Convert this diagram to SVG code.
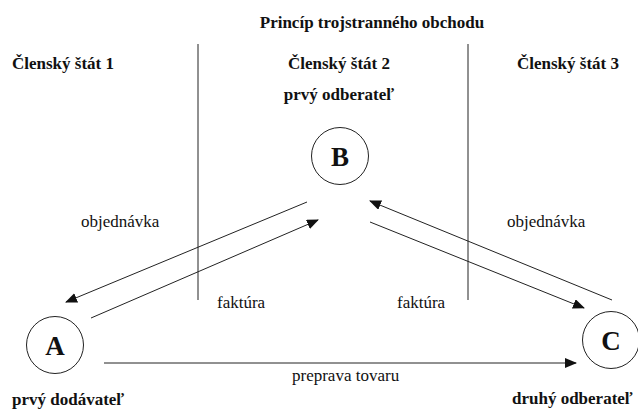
<svg xmlns="http://www.w3.org/2000/svg" width="638" height="410" viewBox="0 0 638 410">
<style>
.t{font-family:'Liberation Serif','Times New Roman',Tinos,'DejaVu Serif',serif;fill:#111;}
.b{font-weight:bold;font-size:17px;}
.r{font-size:17px;}
.big{font-weight:bold;font-size:27px;}
.ln{stroke:#222;stroke-width:1;fill:none;}
.nd{fill:#fff;stroke:#222;stroke-width:1;}
</style>
<defs>
<marker id="ah" markerWidth="12" markerHeight="10" refX="11" refY="5" orient="auto" markerUnits="userSpaceOnUse">
<path d="M0,0 L12,5 L0,10 Z" fill="#111"/>
</marker>
</defs>
<g id="labels">
<text class="t b" x="372" y="28" text-anchor="middle" font-size="17.4">Princíp trojstranného obchodu</text>
<text class="t b" x="12" y="69">Členský štát 1</text>
<text class="t b" x="339" y="69" text-anchor="middle">Členský štát 2</text>
<text class="t b" x="517" y="69">Členský štát 3</text>
<text class="t r" x="81" y="227">objednávka</text>
<text class="t r" x="507" y="227">objednávka</text>
<text class="t r" x="217" y="308">faktúra</text>
<text class="t r" x="397" y="308">faktúra</text>
<text class="t r" x="292" y="381">preprava tovaru</text>
</g>
<g id="dividers">
<line class="ln" x1="198" y1="44" x2="198" y2="300"/>
<line class="ln" x1="468" y1="44" x2="468" y2="300"/>
</g>
<g id="connectors">
<line class="ln" x1="307" y1="202" x2="66" y2="302" marker-end="url(#ah)"/>
<line class="ln" x1="91" y1="318" x2="318" y2="220" marker-end="url(#ah)"/>
<line class="ln" x1="612" y1="300" x2="370" y2="201" marker-end="url(#ah)"/>
<line class="ln" x1="370" y1="222" x2="584" y2="308" marker-end="url(#ah)"/>
<line class="ln" x1="104" y1="363" x2="576" y2="363" marker-end="url(#ah)"/>
</g>
<g id="nodeB">
<circle class="nd" cx="340" cy="156" r="28.5"/>
<text class="t big" x="340" y="166" text-anchor="middle">B</text>
<text class="t b" x="339" y="100" text-anchor="middle">prvý odberateľ</text>
</g>
<g id="nodeA">
<circle class="nd" cx="55" cy="345" r="28.5"/>
<text class="t big" x="55" y="355" text-anchor="middle">A</text>
<text class="t b" x="12" y="405">prvý dodávateľ</text>
</g>
<g id="nodeC">
<circle class="nd" cx="611" cy="340" r="28.5"/>
<text class="t big" x="611" y="350" text-anchor="middle">C</text>
<text class="t b" x="512" y="404">druhý odberateľ</text>
</g>
</svg>
